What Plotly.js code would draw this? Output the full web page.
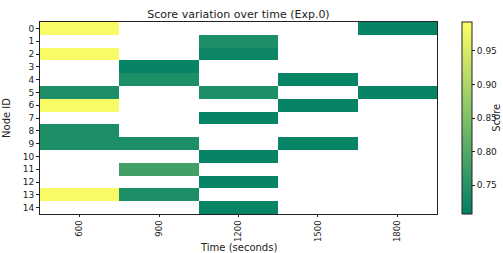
<!DOCTYPE html>
<html><head><meta charset="utf-8">
<script src="https://cdn.plot.ly/plotly-3.0.1.min.js"></script>
<style>body{margin:0;padding:0;background:#fff}#c{width:503px;height:253px}</style>
</head><body><div id="c"></div>
<script>
const times = [600, 900, 1200, 1500, 1800];
const nodes = [0,1,2,3,4,5,6,7,8,9,10,11,12,13,14];
const scores = [
  [0.985, null, null, null, 0.715],
  [null, null, 0.74, null, null],
  [0.985, null, 0.72, null, null],
  [null, 0.715, null, null, null],
  [null, 0.74, null, 0.715, null],
  [0.74, null, 0.74, null, 0.715],
  [0.985, null, null, 0.715, null],
  [null, null, 0.715, null, null],
  [0.74, null, null, null, null],
  [0.74, 0.74, null, 0.715, null],
  [null, null, 0.715, null, null],
  [null, 0.78, null, null, null],
  [null, null, 0.715, null, null],
  [0.985, 0.74, null, null, null],
  [null, null, 0.715, null, null]
];
const cbTicks = [0.75, 0.80, 0.85, 0.90, 0.95];

const fam = 'DejaVu Sans, sans-serif';
const font = {family: fam, size: 9, color: '#222'};
const xfont = {family: fam, size: 8.5, color: '#222'};
const labFont = {family: fam, size: 10, color: '#222'};
Plotly.newPlot('c', [{
  type: 'heatmap',
  x: times, y: nodes, z: scores,
  zmin: 0.707, zmax: 0.993,
  colorscale: [[0, 'rgb(0,128,102)'], [1, 'rgb(255,255,102)']],
  hoverongaps: false,
  colorbar: {
    x: 1.063, xanchor: 'left', xref: 'paper',
    y: 0.5, yanchor: 'middle', len: 1, lenmode: 'fraction',
    thickness: 10, thicknessmode: 'pixels',
    outlinewidth: 1, outlinecolor: '#222',
    tickvals: cbTicks, ticktext: cbTicks.map(v => v.toFixed(2)),
    ticks: 'outside', ticklen: 3, tickcolor: '#222',
    tickfont: font,
    xpad: 0, ypad: 0
  }
}], {
  width: 503, height: 253,
  margin: {l: 40, r: 66, t: 22, b: 39, pad: 0, autoexpand: false},
  paper_bgcolor: '#fff', plot_bgcolor: '#fff',
  font: font,
  title: {text: 'Score variation over time (Exp.0)', font: {family: fam, size: 11, color: '#222'}, x: 0.5, xref: 'paper', xanchor: 'center', y: 1, yref: 'paper', yanchor: 'bottom', pad: {b: 4}},
  xaxis: {
    tickvals: times, ticktext: times.map(String), tickangle: -90,
    ticks: 'outside', ticklen: 2, tickcolor: '#222',
    showline: true, linecolor: '#222', linewidth: 1, mirror: true,
    showgrid: false, zeroline: false,
    tickfont: xfont
  },
  yaxis: {
    tickvals: nodes, ticktext: nodes.map(String), autorange: 'reversed',
    ticks: 'outside', ticklen: 3, tickcolor: '#222',
    showline: true, linecolor: '#222', linewidth: 1, mirror: true,
    showgrid: false, zeroline: false,
    title: {text: 'Node ID', font: labFont},
    tickfont: font
  },
  annotations: [
    {text: 'Time (seconds)', xref: 'paper', yref: 'paper', x: 0.5, y: -0.176, xanchor: 'center', yanchor: 'middle', borderpad: 0, showarrow: false, font: labFont},
    {text: 'Score', xref: 'paper', yref: 'paper', x: 1.148, y: 0.5, xanchor: 'center', yanchor: 'middle', textangle: -90, showarrow: false, font: labFont}
  ]
}, {displayModeBar: false, staticPlot: true});
</script></body></html>
